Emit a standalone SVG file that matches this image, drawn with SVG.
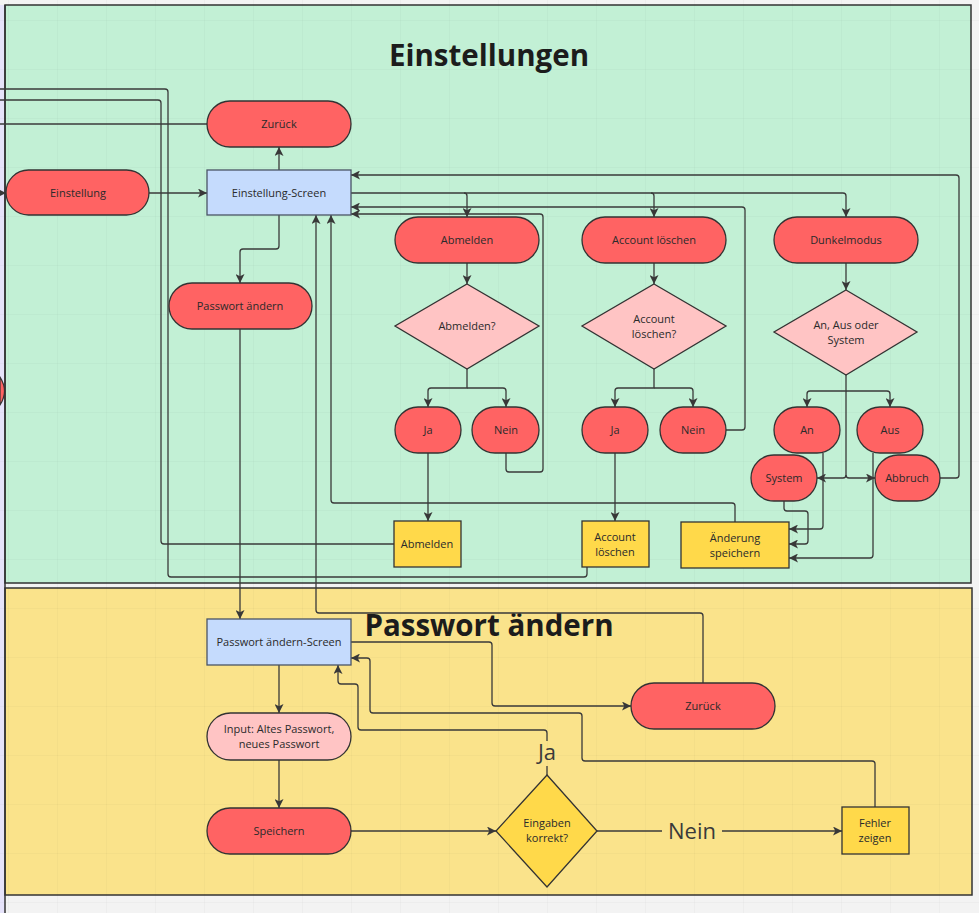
<svg xmlns="http://www.w3.org/2000/svg" width="979" height="913" viewBox="0 0 979 913">
<defs>
<pattern id="grid" x="8" y="20" width="49" height="49" patternUnits="userSpaceOnUse">
<path d="M0,0 H49 M0,0 V49" fill="none" stroke="#000" stroke-opacity="0.045" stroke-width="1"/>
</pattern>
<marker id="arr" viewBox="0 0 10 10" refX="10" refY="5" markerWidth="9" markerHeight="9" markerUnits="userSpaceOnUse" orient="auto">
<path d="M0,0 L10,5 L0,10 L2.5,5 z" fill="#383838"/>
</marker>
<style>
.t{font-family:"Open Sans","Noto Sans","Liberation Sans",sans-serif;font-size:11px;fill:#2a2a2a;text-anchor:middle}
.title{font-family:"Open Sans","Noto Sans","Liberation Sans",sans-serif;font-size:29.5px;font-weight:700;fill:#1c1c1c;text-anchor:middle}
.lbl{font-family:"Open Sans","Noto Sans","Liberation Sans",sans-serif;font-size:22px;fill:#3a3a3a;text-anchor:middle}
.red{fill:#ff6363;stroke:#333;stroke-width:1.3}
.pink{fill:#ffc4c4;stroke:#333;stroke-width:1.3}
.blue{fill:#c5dbfd;stroke:#4a5566;stroke-width:1.3}
.yel{fill:#ffd94a;stroke:#333;stroke-width:1.3}
.c path{fill:none;stroke:#3a3a3a;stroke-width:1.3;stroke-linejoin:round}
.c .a{marker-end:url(#arr)}
</style>
</defs>
<rect x="0" y="0" width="979" height="913" fill="#f3f3f3"/>
<rect x="0" y="5" width="5" height="908" fill="#e6e3fa"/>
<g id="frame-einstellungen">
<rect x="5" y="5" width="966" height="578" fill="#c2f0d5" stroke="#333" stroke-width="1.5"/>
</g>
<g id="frame-passwort">
<rect x="5" y="588" width="967" height="307" fill="#fae38b" stroke="#333" stroke-width="1.5"/>
</g>
<rect x="0" y="0" width="979" height="913" fill="url(#grid)"/>
<path d="M0,377 Q9,391 0,405 Z" fill="#ff6363" stroke="#333" stroke-width="1.2"/>
<line x1="5" y1="5" x2="5" y2="913" stroke="#333" stroke-width="1.5"/>
<text class="title" x="489" y="66">Einstellungen</text>
<text class="title" x="489" y="636">Passwort ändern</text>

<g class="c" id="connectors">
<path class="a" d="M0,193 H6"/>
<path class="a" d="M149,193 H207"/>
<path class="a" d="M279,170 V147"/>
<path d="M207,124 H0"/>
<path d="M394,544 H164 Q161,544 161,541 V103 Q161,100 158,100 H0"/>
<path d="M587,567 V574 Q587,577 584,577 H171 Q168,577 168,574 V92 Q168,89 165,89 H0"/>
<path class="a" d="M279,215 V246 Q279,249 276,249 H243 Q240,249 240,252 V283"/>
<path class="a" d="M240,329 V619"/>
<path class="a" d="M940,478 H956 Q959,478 959,475 V178 Q959,175 956,175 H351"/>
<path class="a" d="M351,193 H843 Q846,193 846,196 V217"/>
<path class="a" d="M464,193 Q467,193 467,196 V217"/>
<path class="a" d="M651,193 Q654,193 654,196 V217"/>
<path class="a" d="M726,430 H742 Q745,430 745,427 V210 Q745,207 742,207 H351"/>
<path class="a" d="M506,453 V469 Q506,472 509,472 H540 Q543,472 543,469 V217 Q543,214 540,214 H351"/>
<path class="a" d="M735,522 V506 Q735,503 732,503 H334 Q331,503 331,500 V215"/>
<path class="a" d="M703,683 V616 Q703,613 700,613 H319 Q316,613 316,610 V215"/>
<path class="a" d="M467,263 V284"/>
<path class="a" d="M467,369 V388 H431 Q428,388 428,391 V407"/>
<path class="a" d="M467,388 H503 Q506,388 506,391 V407"/>
<path class="a" d="M428,453 V521"/>
<path class="a" d="M654,263 V284"/>
<path class="a" d="M654,369 V388 H618 Q615,388 615,391 V407"/>
<path class="a" d="M654,388 H690 Q693,388 693,391 V407"/>
<path class="a" d="M615,453 V521"/>
<path class="a" d="M846,263 V290"/>
<path class="a" d="M846,375 V391 H810 Q807,391 807,394 V407"/>
<path class="a" d="M846,391 H887 Q890,391 890,394 V407"/>
<path class="a" d="M846,391 V475 Q846,478 843,478 H817"/>
<path class="a" d="M846,475 Q846,478 849,478 H875"/>
<path class="a" d="M823,453 V526 Q823,529 820,529 H789"/>
<path class="a" d="M784,501 V508 Q784,511 787,511 H805 Q808,511 808,514 V541 Q808,544 805,544 H789"/>
<path class="a" d="M873,453 V555 Q873,558 870,558 H789"/>
<path class="a" d="M279,665 V713"/>
<path class="a" d="M279,760 V808"/>
<path class="a" d="M351,831 H496"/>
<path d="M597,831 H662"/>
<path class="a" d="M722,831 H842"/>
<path d="M547,775 V766"/>
<path class="a" d="M547,741 V733 Q547,730 544,730 H361 Q358,730 358,727 V687 Q358,684 355,684 H341 Q338,684 338,681 V665"/>
<path class="a" d="M875,807 V764 Q875,761 872,761 H585 Q582,761 582,758 V716 Q582,713 579,713 H373 Q370,713 370,710 V661 Q370,658 367,658 H351"/>
<path class="a" d="M351,642 H489 Q492,642 492,645 V703 Q492,706 495,706 H631"/>
<text class="lbl" x="547" y="760">Ja</text>
<text class="lbl" x="692" y="839">Nein</text>
</g>

<g id="zurueck1"><rect class="red" x="207" y="101" width="144" height="46" rx="23"/><text class="t" x="279" y="128">Zurück</text></g>
<g id="einstellung-screen"><rect class="blue" x="207" y="170" width="144" height="45"/><text class="t" x="279" y="197">Einstellung-Screen</text></g>
<g id="einstellung"><rect class="red" x="6" y="170" width="143" height="45" rx="22.5"/><text class="t" x="78" y="197">Einstellung</text></g>
<g id="passwort-aendern"><rect class="red" x="169" y="283" width="143" height="46" rx="23"/><text class="t" x="240" y="310">Passwort ändern</text></g>

<g id="abmelden"><rect class="red" x="395" y="217" width="144" height="46" rx="23"/><text class="t" x="467" y="244">Abmelden</text></g>
<g id="abmelden-q"><polygon class="pink" points="467,284 539,326 467,369 395,326"/><text class="t" x="467" y="330">Abmelden?</text></g>
<g id="abm-ja"><rect class="red" x="395" y="407" width="66" height="46" rx="23"/><text class="t" x="428" y="434">Ja</text></g>
<g id="abm-nein"><rect class="red" x="472" y="407" width="67" height="46" rx="23"/><text class="t" x="506" y="434">Nein</text></g>
<g id="abmelden-box"><rect class="yel" x="394" y="521" width="67" height="46"/><text class="t" x="427" y="548">Abmelden</text></g>

<g id="account"><rect class="red" x="582" y="217" width="144" height="46" rx="23"/><text class="t" x="654" y="244">Account löschen</text></g>
<g id="account-q"><polygon class="pink" points="654,284 726,326 654,369 582,326"/><text class="t" x="654" y="323">Account</text><text class="t" x="654" y="338">löschen?</text></g>
<g id="acc-ja"><rect class="red" x="582" y="407" width="66" height="46" rx="23"/><text class="t" x="615" y="434">Ja</text></g>
<g id="acc-nein"><rect class="red" x="660" y="407" width="66" height="46" rx="23"/><text class="t" x="693" y="434">Nein</text></g>
<g id="account-box"><rect class="yel" x="582" y="521" width="67" height="46"/><text class="t" x="615" y="541">Account</text><text class="t" x="615" y="556">löschen</text></g>

<g id="dunkelmodus"><rect class="red" x="774" y="217" width="144" height="46" rx="23"/><text class="t" x="846" y="244">Dunkelmodus</text></g>
<g id="dunkel-q"><polygon class="pink" points="846,290 917,332 846,375 774,332"/><text class="t" x="846" y="329">An, Aus oder</text><text class="t" x="846" y="344">System</text></g>
<g id="an"><rect class="red" x="774" y="407" width="66" height="46" rx="23"/><text class="t" x="807" y="434">An</text></g>
<g id="aus"><rect class="red" x="857" y="407" width="66" height="46" rx="23"/><text class="t" x="890" y="434">Aus</text></g>
<g id="system"><rect class="red" x="751" y="455" width="66" height="46" rx="23"/><text class="t" x="784" y="482">System</text></g>
<g id="abbruch"><rect class="red" x="875" y="455" width="65" height="46" rx="23"/><text class="t" x="907" y="482">Abbruch</text></g>
<g id="aenderung"><rect class="yel" x="681" y="522" width="108" height="46"/><text class="t" x="735" y="542">Änderung</text><text class="t" x="735" y="557">speichern</text></g>

<g id="pw-screen"><rect class="blue" x="207" y="619" width="144" height="46"/><text class="t" x="279" y="646">Passwort ändern-Screen</text></g>
<g id="input"><rect class="pink" x="207" y="713" width="144" height="47" rx="23.5"/><text class="t" x="279" y="733">Input: Altes Passwort,</text><text class="t" x="279" y="748">neues Passwort</text></g>
<g id="speichern"><rect class="red" x="207" y="808" width="144" height="46" rx="23"/><text class="t" x="279" y="835">Speichern</text></g>
<g id="eingaben"><polygon class="yel" points="547,775 597,831 547,887 496,831"/><text class="t" x="547" y="827">Eingaben</text><text class="t" x="547" y="842">korrekt?</text></g>
<g id="zurueck2"><rect class="red" x="631" y="683" width="144" height="46" rx="23"/><text class="t" x="703" y="710">Zurück</text></g>
<g id="fehler"><rect class="yel" x="842" y="807" width="67" height="47"/><text class="t" x="875" y="827">Fehler</text><text class="t" x="875" y="842">zeigen</text></g>
</svg>
